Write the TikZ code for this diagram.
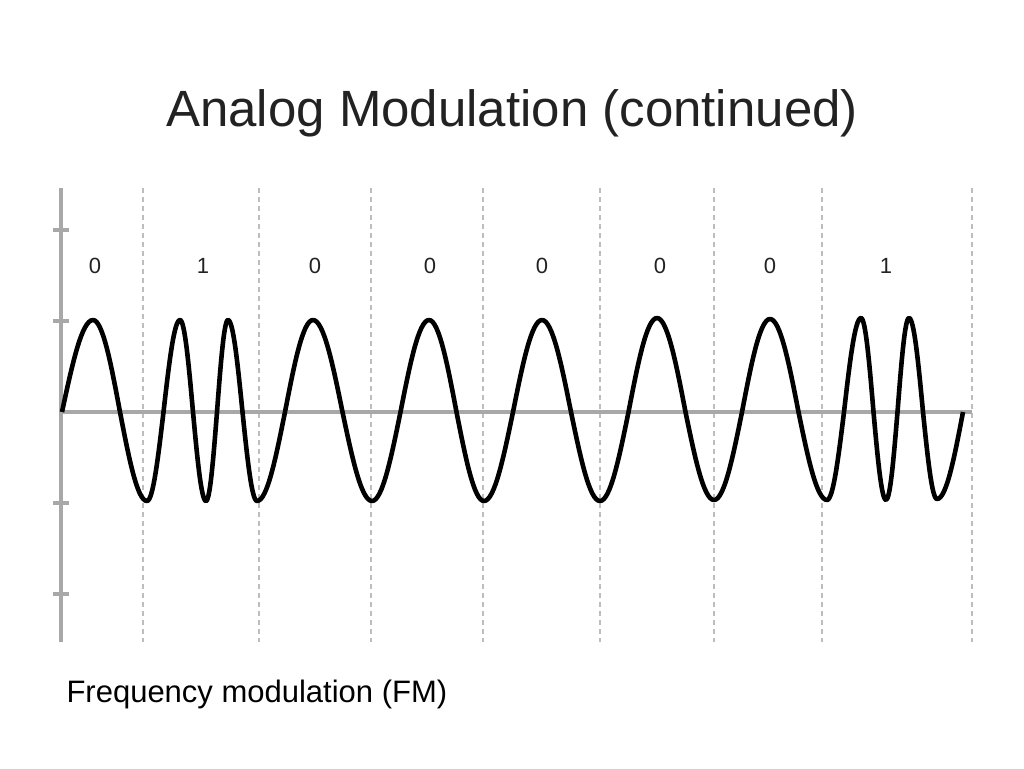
\documentclass[tikz,border=0pt]{standalone}
\usepackage{fontspec}
\setmainfont{Liberation Sans}
\definecolor{axisgray}{HTML}{A8A8A8}
\definecolor{gridgray}{HTML}{BDBDBD}
\definecolor{inkgray}{HTML}{222222}
\tikzset{
  axisline/.style={axisgray,line width=4.2pt},
  gridline/.style={gridgray,line width=1.3pt,dash pattern=on 5pt off 4pt},
  wave/.style={black,line width=4.6pt,line join=round},
  bitlabel/.style={font=\fontsize{22}{25}\selectfont,text=inkgray},
}
\begin{document}
\begin{tikzpicture}[x=1pt,y=-1pt]
\useasboundingbox (0,0) rectangle (1024,768);

\node[anchor=base,font=\fontsize{51}{60}\selectfont,text=inkgray] (title) at (512,126) {Analog Modulation (continued)};

% bit boundaries
\foreach \x in {143,259,371,483,600,714,822,972}
  \draw[gridline] (\x,188) -- (\x,642);

% axes
\coordinate (o) at (62,412);
\draw[axisline] (61,188) -- (61,642);
\draw[axisline] (o) -- (972,412);
\foreach \y in {230,321,503,594}
  \draw[axisline] (53,\y) -- (69,\y);

% bits
\foreach \b/\x [count=\i] in {0/95,1/203,0/315,0/430,0/542,0/660,0/770,1/886}
  \node[bitlabel] (bit\i) at (\x,266) {\b};

% FM carrier
\draw[wave] (o) sin (93,320)
  \foreach \x/\y [remember=\x as \px (initially 93)] in
    {147/501,180/320,206/501,228/320,257/501,313/320,372/501,429/320,484/501,
     542/320,600/501,657/318,714/500,770/319,827/500,861/318,886/500,909/318,937/499}
    { cos ({(\px+\x)/2},412) sin (\x,\y) }
  cos (963,412);

\node[anchor=base west,font=\fontsize{31}{36}\selectfont,text=black] (caption) at (63,702) {Frequency modulation (FM)};
\end{tikzpicture}
\end{document}
